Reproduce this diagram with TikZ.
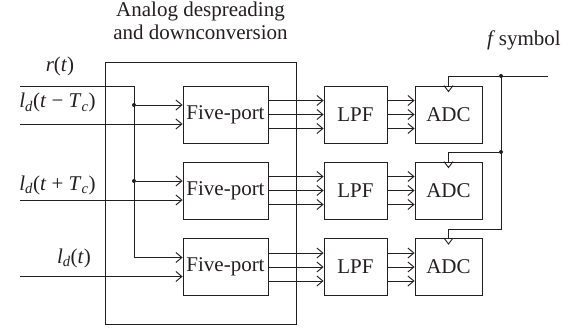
\documentclass[tikz,border=0pt]{standalone}
\usepackage{fontspec}
\setmainfont{Liberation Serif}
\usetikzlibrary{arrows.meta,calc}
\definecolor{ink}{RGB}{35,31,32}
\newcommand{\bigtxt}{\fontsize{21}{25}\selectfont}
\newcommand{\ldsig}[1]{{\itshape l}\textsubscript{\itshape d}(#1)}
\begin{document}
\begin{tikzpicture}[x=1pt,y=-1pt,
  wire/.style={draw=ink,line width=0.9pt},
  arr/.style={wire,-{Straight Barb[length=6pt,width=10pt,line width=0.9pt]}},
  blk/.style={draw=ink,line width=0.9pt,inner sep=0pt,font=\bigtxt,text=ink},
  fiveport/.style={blk,minimum width=85pt,minimum height=57pt},
  lpfbox/.style={blk,minimum width=63pt,minimum height=57pt},
  adcbox/.style={blk,minimum width=67pt,minimum height=57pt},
  lbl/.style={font=\bigtxt,text=ink,inner sep=0pt},
  dot/.style={circle,fill=ink,inner sep=0pt,minimum size=4pt}]
\useasboundingbox (0,0) rectangle (574,329);

% analog despreading / downconversion frame
\node[draw=ink,line width=0.9pt,minimum width=191pt,minimum height=262pt,inner sep=0pt] (ana) at (200.5,193) {};
\node[lbl,anchor=base] (t1) at (200.5,17) {Analog despreading};
\node[lbl,anchor=base] (t2) at (200.5,40) {and downconversion};

% processing chains
\foreach \i/\c in {1/114.5,2/190.5,3/267}{
  \node[fiveport] (fp\i) at (225.5,\c) {Five-port};
  \node[lpfbox]   (lpf\i) at (355.5,\c) {LPF};
  \node[adcbox]   (adc\i) at (448.5,\c) {ADC};
  \foreach \d in {-14,0,14}{
    \draw[arr] ($(fp\i.east)+(0,\d)$) -- ($(lpf\i.west)+(0,\d)$);
    \draw[arr] ($(lpf\i.east)+(0,\d)$) -- ($(adc\i.west)+(0,\d)$);
  }
  % clock input marker
  \draw[wire] ($(adc\i.north)+(-4.5,0)$) -- ($(adc\i.north)+(0,6)$) -- ($(adc\i.north)+(4.5,0)$);
}

% received signal r(t), split to all three five-ports
\coordinate (rin) at (20,86);
\coordinate (rc) at (134,86);
\node[dot] (j1) at (134,105) {};
\node[dot] (j2) at (134,181) {};
\coordinate (j3) at (134,257.5);
\draw[wire] (rin) -- (rc) -- (j3);
\draw[arr] (j1) -- (j1 -| fp1.west);
\draw[arr] (j2) -- (j2 -| fp2.west);
\draw[arr] (j3) -- (j3 -| fp3.west);
\node[lbl,anchor=base] (lr) at (60,72) {{\itshape r}(\textit{t})};

% local code replicas
\coordinate (l1) at (20,124);
\coordinate (l2) at (20,200);
\coordinate (l3) at (20,276.5);
\draw[arr] (l1) -- (l1 -| fp1.west);
\draw[arr] (l2) -- (l2 -| fp2.west);
\draw[arr] (l3) -- (l3 -| fp3.west);
\node[lbl,anchor=base] (la) at (57.5,108) {\ldsig{\textit{t} − \textit{T}\textsubscript{\itshape c}}};
\node[lbl,anchor=base] (lb) at (57.5,190) {\ldsig{\textit{t} + \textit{T}\textsubscript{\itshape c}}};
\node[lbl,anchor=base] (lc) at (74,263) {\ldsig{\textit{t}}};

% symbol clock distribution
\coordinate (clk) at (548,76);
\node[dot] (c1) at (501,76) {};
\node[dot] (c2) at (501,152) {};
\coordinate (c3) at (501,229);
\draw[wire] (clk) -- (c1.center) -- (c3) -| (adc3.north);
\draw[wire] (c1) -| (adc1.north);
\draw[wire] (c2) -| (adc2.north);
\node[lbl,anchor=base] (fs) at (524,46) {\textit{f}\,symbol};
\end{tikzpicture}
\end{document}
